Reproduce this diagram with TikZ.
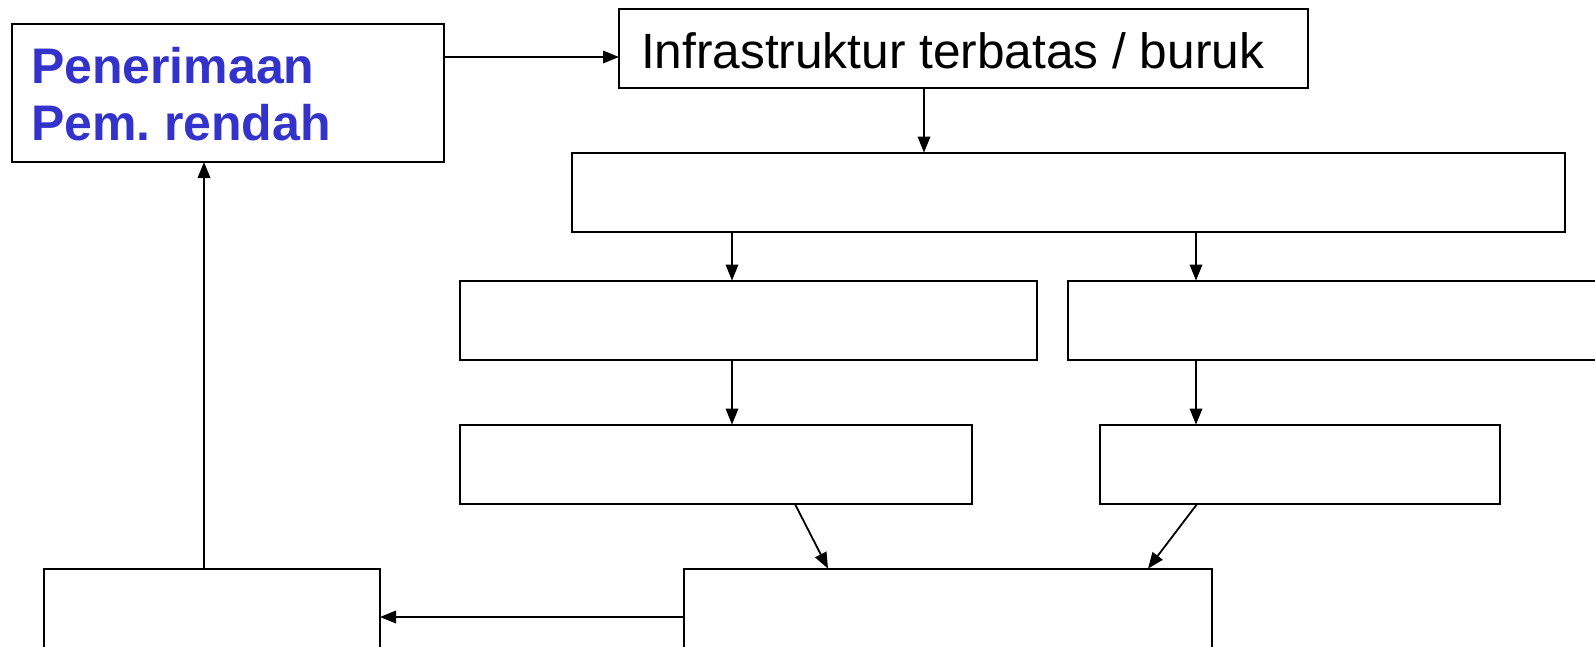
\documentclass[tikz,border=0pt]{standalone}
\usepackage{fontspec}
\setmainfont{Liberation Sans}
\usetikzlibrary{arrows.meta}
\definecolor{penblue}{RGB}{51,51,204}
\begin{document}
\begin{tikzpicture}[x=1pt,y=-1pt,
  box/.style={draw,line width=2pt,rectangle,inner sep=0pt,outer sep=0pt,anchor=north west},
  conn/.style={line width=1.8pt,-{Triangle[length=16pt,width=12.5pt]}},
  lbl/.style={anchor=base west,inner sep=0pt,outer sep=0pt}]
\useasboundingbox (0,0) rectangle (1595,646);
\clip (0,0) rectangle (1595,646);
% boxes
\node[box,minimum width=432pt,minimum height=137.6pt] (A) at (12,24.4) {};
\node[box,minimum width=688.5pt,minimum height=78.7pt] (B) at (619,8.8) {};
\node[box,minimum width=992.5pt,minimum height=79.2pt] (C) at (572,152.6) {};
\node[box,minimum width=577pt,minimum height=79pt] (D) at (459.5,280.6) {};
\node[box,minimum width=543pt,minimum height=79pt] (E) at (1067.5,280.6) {};
\node[box,minimum width=512pt,minimum height=79.5pt] (F) at (460,424.6) {};
\node[box,minimum width=400pt,minimum height=79.5pt] (G) at (1100,424.6) {};
\node[box,minimum width=528.5pt,minimum height=132pt] (H) at (683.7,568.6) {};
\node[box,minimum width=336.5pt,minimum height=132pt] (I) at (43.5,568.6) {};
% texts
\node[lbl,text=penblue,font=\bfseries\fontsize{50}{57}\selectfont] (t1) at (31,83.5) {Penerimaan};
\node[lbl,text=penblue,font=\bfseries\fontsize{50}{57}\selectfont] (t2) at (31,140.2) {Pem.\hspace{-0.1em} rendah};
\node[lbl,font=\fontsize{49.6}{57}\selectfont] (t3) at (641,68.8) {Infrastruktur terbatas / buruk};
% connectors
\draw[conn] (A.east |- 0,57) -- (B.west |- 0,57);
\draw[conn] (B.south -| 924,0) -- (C.north -| 924,0);
\draw[conn] (C.south -| 732,0) -- (D.north -| 732,0);
\draw[conn] (C.south -| 1196,0) -- (E.north -| 1196,0);
\draw[conn] (D.south -| 732,0) -- (F.north -| 732,0);
\draw[conn] (E.south -| 1196,0) -- (G.north -| 1196,0);
\draw[conn] (F.south -| 795,0) -- (H.north -| 828,0);
\draw[conn] (G.south -| 1197,0) -- (H.north -| 1148,0);
\draw[conn] (H.west |- 0,617) -- (I.east |- 0,617);
\draw[conn] (I.north -| 204,0) -- (A.south -| 204,0);
\end{tikzpicture}
\end{document}
